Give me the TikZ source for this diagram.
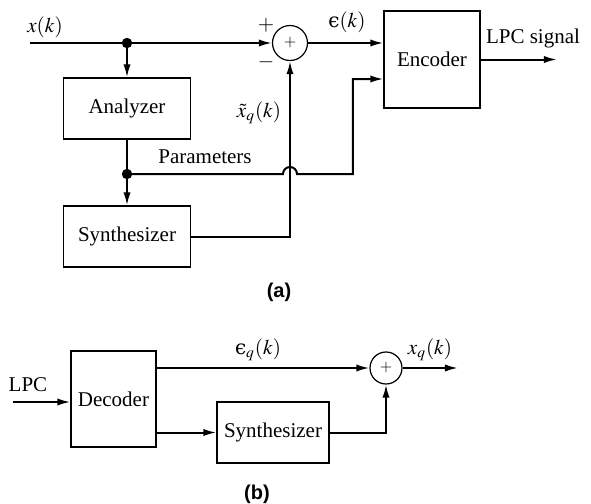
\documentclass[tikz,border=0pt]{standalone}
\usepackage{mathptmx}
\usepackage{fontspec}
\setmainfont{Liberation Serif}
\newfontfamily\capfont{Liberation Sans}
\newfontfamily\symfont[Scale=0.95]{DejaVu Serif}
\newcommand{\lunateps}{\mbox{\symfont ϵ}}
\usetikzlibrary{arrows.meta}
\tikzset{
  blk/.style={draw, line width=0.6pt, inner sep=0pt},
  sumnode/.style={draw, circle, line width=0.6pt, inner sep=0pt, font=\footnotesize},
  sig/.style={line width=1pt},
  arr/.style={sig, -{Latex[length=6.5pt,width=3.6pt]}},
  lab/.style={inner sep=1pt},
  caplab/.style={font=\capfont\bfseries\normalsize}
}
\begin{document}
\begin{tikzpicture}[x=0.5pt, y=-0.5pt, font=\fontsize{10.5}{12}\selectfont]
  \useasboundingbox (0,0) rectangle (591,504);
  % (a) 编码端
  \begin{scope}
    \node[blk, minimum width=63.5pt, minimum height=30.5pt] (ana) at (127,108.5) {Analyzer};
    \node[blk, minimum width=63.5pt, minimum height=30.5pt] (synA) at (127,236.5) {Synthesizer};
    \node[blk, minimum width=48pt, minimum height=48.5pt] (enc) at (432,59.5) {Encoder};
    \node[sumnode, minimum size=17.5pt] (sumA) at (290,43) {$+$};
    \coordinate (xin) at (30,43);
    \coordinate (dotA) at (127,43);
    \coordinate (dotB) at (127,174);
    \coordinate (hopL) at (283,174);
    \coordinate (parR) at (353,174);
    \coordinate (parU) at (353,79);
    \coordinate (lpcout) at (557,59.5);
    \draw[arr] (xin) -- (sumA.west);
    \fill (dotA) circle (2.6pt);
    \draw[arr] (dotA) -- (ana.north);
    \draw[arr] (sumA.east) -- (sumA -| enc.west);
    \draw[arr] (enc.east) -- (lpcout);
    \draw[sig] (ana.south) -- (dotB);
    \fill (dotB) circle (2.6pt);
    \draw[arr] (dotB) -- (synA.north);
    \draw[arr] (dotB) -- (hopL) arc[start angle=180, end angle=0, radius=3.5pt]
      -- (parR) -- (parU) -- (parU -| enc.west);
    \draw[arr] (synA.east) -| (sumA.south);
    \node[lab] (xlab) at (45,27) {$x(k)$};
    \node[lab] (plus) at (266,25) {$+$};
    \node[lab] (minus) at (266,62) {$-$};
    \node[lab] (elab) at (347,22) {$\lunateps(k)$};
    \node[lab] (lpclab) at (533,38) {LPC signal};
    \node[lab] (xqlab) at (259,113) {$\tilde{x}_q(k)$};
    \node[lab] (parlab) at (205,157) {Parameters};
    \node[caplab] (capa) at (279,292) {(a)};
  \end{scope}
  % (b) 解码端
  \begin{scope}
    \node[blk, minimum width=42.5pt, minimum height=48pt] (dec) at (113.5,399) {Decoder};
    \node[blk, minimum width=56pt, minimum height=30.5pt] (synB) at (273,432.5) {Synthesizer};
    \node[sumnode, minimum size=16pt] (sumB) at (386,368) {$+$};
    \coordinate (lpcin) at (13,402);
    \coordinate (xqout) at (458,368);
    \draw[arr] (lpcin) -- (lpcin -| dec.west);
    \draw[arr] (dec.east |- sumB) -- (sumB.west);
    \draw[arr] (sumB.east) -- (xqout);
    \draw[arr] (dec.east |- synB) -- (synB.west);
    \draw[arr] (synB.east) -| (sumB.south);
    \node[lab] (lpcb) at (28,385) {LPC};
    \node[lab] (eqlab) at (258,350) {$\lunateps_q(k)$};
    \node[lab] (xqb) at (430,350) {$x_q(k)$};
    \node[caplab] (capb) at (257,494) {(b)};
  \end{scope}
\end{tikzpicture}
\end{document}
